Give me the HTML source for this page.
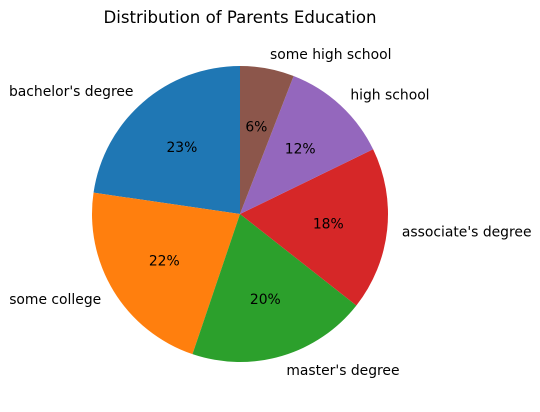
<!DOCTYPE html>
<html><head><meta charset="utf-8"><style>
body{margin:0;background:#fff;}
svg text{font-family:"DejaVu Sans","Liberation Sans",sans-serif;font-size:13.9px;fill:#000;}
</style></head><body>
<svg id="chart" width="540" height="407">
<text x="240" y="23" text-anchor="middle" style="font-size:16.6px">Distribution of Parents Education</text>
</svg>
<script>
const categories=["bachelor's degree","some college","master's degree","associate's degree","high school","some high school"];
const values=[22.7,22.1,19.6,17.8,11.9,5.9];
const colors=["#1f77b4","#ff7f0e","#2ca02c","#d62728","#9467bd","#8c564b"];
const cx=240,cy=214,R=148;
const svg=document.getElementById('chart');
const NS='http://www.w3.org/2000/svg';
const total=values.reduce((a,b)=>a+b,0);
let a=90;
function pt(ang,r){const t=ang*Math.PI/180;return [cx+r*Math.cos(t),cy-r*Math.sin(t)];}
values.forEach((v,i)=>{
  const span=v/total*360,a2=a+span;
  const p1=pt(a,R),p2=pt(a2,R);
  const path=document.createElementNS(NS,'path');
  path.setAttribute('d',`M${cx},${cy}L${p1[0]},${p1[1]}A${R},${R} 0 ${span>180?1:0} 0 ${p2[0]},${p2[1]}Z`);
  path.setAttribute('fill',colors[i]);
  
  
  svg.appendChild(path);
  const mid=a+span/2;
  const lp=pt(mid,R*1.1);
  const lab=document.createElementNS(NS,'text');
  lab.setAttribute('x',lp[0]);lab.setAttribute('y',lp[1]+5);
  lab.setAttribute('text-anchor',lp[0]<cx?'end':'start');
  lab.textContent=categories[i];
  
  
  svg.appendChild(lab);
  const pp=pt(mid,R*0.6);
  const pc=document.createElementNS(NS,'text');
  pc.setAttribute('x',pp[0]);pc.setAttribute('y',pp[1]+5);
  pc.setAttribute('text-anchor','middle');
  pc.textContent=Math.round(v/total*100)+'%';
  
  
  svg.appendChild(pc);
  a=a2;
});
</script>
</body></html>
